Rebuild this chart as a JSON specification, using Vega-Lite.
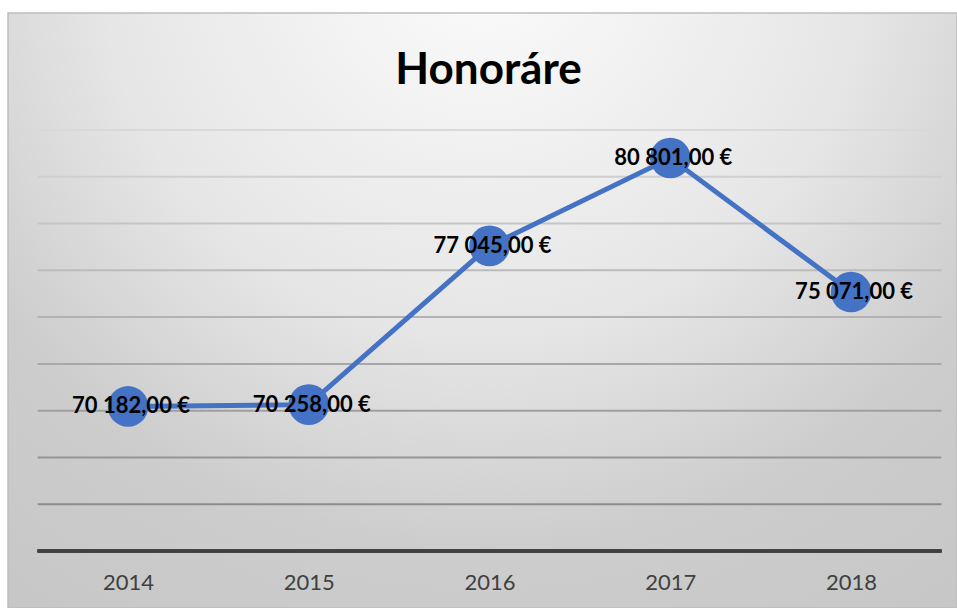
{
  "$schema": "https://vega.github.io/schema/vega-lite/v6.json",
  "width": 949,
  "height": 595,
  "autosize": {"type": "none"},
  "padding": {"left": 8, "top": 13, "right": 0, "bottom": 0},
  "background": "white",
  "config": {
    "view": {
      "fill": {
        "gradient": "radial",
        "x1": 0.5, "y1": 0.12, "r1": 0,
        "x2": 0.5, "y2": 0.12, "r2": 1,
        "stops": [
          {"offset": 0, "color": "#fcfcfc"},
          {"offset": 0.4, "color": "#e6e6e6"},
          {"offset": 0.63, "color": "#cdcdcd"},
          {"offset": 1, "color": "#c2c2c2"}
        ]
      },
      "stroke": "#bdbdbd",
      "strokeWidth": 1.5
    },
    "locale": {
      "number": {"decimal": ",", "thousands": " ", "grouping": [3], "currency": ["", " €"]}
    },
    "font": "Lato"
  },
  "title": {
    "text": "Honoráre",
    "font": "Lato",
    "fontSize": 44,
    "fontWeight": "bold",
    "color": "#000000",
    "anchor": "middle",
    "baseline": "alphabetic",
    "offset": -70,
    "dx": 6,
    "dy": 45
  },
  "datasets": {
    "main": [
      {"year": 2014, "value": 70182},
      {"year": 2015, "value": 70258},
      {"year": 2016, "value": 77045},
      {"year": 2017, "value": 80801},
      {"year": 2018, "value": 75071}
    ],
    "grid": [
      {"v": 66000}, {"v": 68000}, {"v": 70000}, {"v": 72000}, {"v": 74000},
      {"v": 76000}, {"v": 78000}, {"v": 80000}, {"v": 82000}
    ]
  },
  "data": {"name": "main"},
  "layer": [
    {
      "data": {"name": "grid"},
      "mark": {"type": "rule", "strokeWidth": 2},
      "encoding": {
        "y": {"field": "v", "type": "quantitative", "scale": {"domain": [61563, 87002], "nice": false, "zero": false}, "axis": null},
        "x": {"datum": 2013.5, "type": "quantitative",
              "scale": {"domain": [2013.336, 2018.586], "nice": false, "zero": false},
              "axis": {"values": [2014, 2015, 2016, 2017, 2018], "format": "d", "domain": false, "ticks": false, "grid": false,
                       "offset": -57, "labelPadding": 31, "labelBaseline": "middle", "labelFont": "Lato", "labelFontSize": 22,
                       "labelColor": "#404040", "title": null, "labelFlush": false}},
        "x2": {"datum": 2018.5},
        "color": {"field": "v", "type": "quantitative", "scale": {"domain": [66000, 82000], "range": ["#8c8c8c", "#d9d9d9"]}, "legend": null}
      }
    },
    {
      "mark": {"type": "rule", "strokeWidth": 3, "color": "#404040"},
      "encoding": {
        "y": {"datum": 64000, "type": "quantitative"},
        "x": {"datum": 2013.5, "type": "quantitative"},
        "x2": {"datum": 2018.5}
      }
    },
    {
      "mark": {"type": "line", "color": "#4472C4", "strokeWidth": 5},
      "encoding": {
        "x": {"field": "year", "type": "quantitative"},
        "y": {"field": "value", "type": "quantitative"}
      }
    },
    {
      "mark": {"type": "circle", "color": "#4472C4", "opacity": 1, "size": 1650},
      "encoding": {
        "x": {"field": "year", "type": "quantitative"},
        "y": {"field": "value", "type": "quantitative"}
      }
    },
    {
      "mark": {"type": "text", "font": "Lato", "fontWeight": "bold", "fontSize": 22, "color": "#000000", "dx": 3, "baseline": "middle"},
      "encoding": {
        "x": {"field": "year", "type": "quantitative"},
        "y": {"field": "value", "type": "quantitative"},
        "text": {"field": "value", "type": "quantitative", "format": "$,.2f"}
      }
    }
  ]
}
